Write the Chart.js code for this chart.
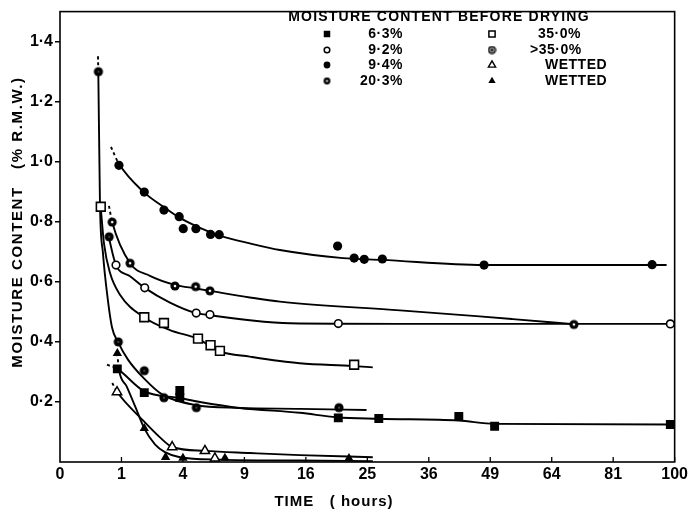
<!DOCTYPE html>
<html><head><meta charset="utf-8">
<script src="https://cdn.jsdelivr.net/npm/chart.js@4/dist/chart.umd.min.js"></script>
<style>html,body{margin:0;padding:0;background:#fff}#wrap{width:691px;height:513px}</style>
</head><body><div id="wrap"><canvas id="c" width="691" height="513"></canvas></div>
<script>
// ---------- tick labels ----------
const xTickHours  = [0, 1, 4, 9, 16, 25, 36, 49, 64, 81, 100];
const xTickLabels = ['0','1','4','9','16','25','36','49','64','81','100'];
const yTickValues = [0.2, 0.4, 0.6, 0.8, 1.0, 1.2, 1.4];
const yTickLabels = ['0·2','0·4','0·6','0·8','1·0','1·2','1·4'];

// ---------- legend labels ----------
const seriesLabels = ['6·3%','9·2%','9·4%','20·3%','35·0%','>35·0%','WETTED','WETTED'];

// ---------- measured points (time in hours, moisture % R.M.W.) ----------
const m63Hours   = [0.87, 1.88, 3.8, 3.8, 20.5, 26.9, 42.1, 50.0, 98.6];
const m63Values  = [0.31, 0.231, 0.238, 0.215, 0.147, 0.145, 0.152, 0.119, 0.125];

const m92Hours   = [0.83, 1.90, 4.91, 5.95, 20.5, 98.6];
const m92Values  = [0.656, 0.58, 0.496, 0.491, 0.461, 0.46];

const m94Hours   = [0.92, 1.88, 2.86, 3.76, 4.02, 4.89, 6.0, 6.71, 20.4, 22.9, 24.5, 27.5, 47.6, 92.8];
const m94Values  = [0.988, 0.899, 0.839, 0.817, 0.777, 0.777, 0.758, 0.757, 0.719, 0.679, 0.675, 0.676, 0.656, 0.657];

const m203Hours  = [0.72, 1.30, 3.50, 4.87, 5.95, 69.9];
const m203Values = [0.799, 0.662, 0.586, 0.584, 0.57, 0.458];

const m350Hours  = [0.44, 1.88, 2.86, 5.04, 6.0, 6.77, 22.9];
const m350Values = [0.85, 0.482, 0.463, 0.411, 0.389, 0.37, 0.324];

const mGt35Hours  = [0.39, 0.64, 0.90, 1.88, 2.86, 4.92, 20.6];
const mGt35Values = [1.30, 0.75, 0.40, 0.304, 0.214, 0.181, 0.181];

const mWetOHours  = [0.86, 3.33, 5.56, 6.35];
const mWetOValues = [0.233, 0.05, 0.037, 0.012];

const mWetFHours  = [0.87, 1.88, 2.95, 4.0, 7.2, 22.1];
const mWetFValues = [0.362, 0.112, 0.016, 0.013, 0.013, 0.012];

// ---------- drawn curves ----------
const c94Hours   = [0.688, 0.92, 1.87, 2.86, 3.81, 5.18, 6.77, 9.54, 12.8, 21.2, 27.4, 47.5, 97.4];
const c94Values  = [1.049, 0.993, 0.898, 0.849, 0.813, 0.78, 0.754, 0.728, 0.706, 0.679, 0.673, 0.656, 0.656];

const c92Hours   = [0.61, 0.83, 1.30, 1.90, 3.2, 4.89, 5.95, 9.54, 14.0, 30.6, 98.6];
const c92Values  = [0.76, 0.656, 0.619, 0.58, 0.531, 0.496, 0.489, 0.472, 0.462, 0.46, 0.46];

const c203Hours  = [0.635, 0.72, 1.30, 2.14, 3.5, 4.87, 5.95, 9.54, 12.8, 30.6, 46.6, 54.3, 69.9];
const c203Values = [0.853, 0.799, 0.662, 0.62, 0.59, 0.578, 0.57, 0.548, 0.534, 0.505, 0.485, 0.476, 0.459];

const c350Hours  = [0.438, 0.512, 0.661, 0.952, 1.866, 3.2, 5.04, 6.77, 9.54, 15.2, 22.7, 25.9];
const c350Values = [0.85, 0.728, 0.63, 0.557, 0.482, 0.439, 0.41, 0.368, 0.351, 0.329, 0.32, 0.315];

const cGt35Hours  = [0.382, 0.388, 0.423, 0.489, 0.584, 0.715, 0.889, 1.223, 1.91, 2.735, 4.818, 8.566, 15.23, 24.87];
const cGt35Values = [1.351, 1.302, 0.859, 0.695, 0.564, 0.449, 0.40, 0.341, 0.275, 0.226, 0.19, 0.18, 0.177, 0.173];

const c63Hours   = [0.584, 0.868, 1.866, 3.807, 5.182, 8.566, 15.23, 20.24, 26.9, 42.09, 50.03, 98.6];
const c63Values  = [0.324, 0.31, 0.236, 0.213, 0.2, 0.18, 0.164, 0.149, 0.144, 0.138, 0.127, 0.125];

const cWetOHours  = [0.723, 0.868, 1.765, 2.644, 3.334, 5.559, 9.544, 15.23, 25.9];
const cWetOValues = [0.263, 0.233, 0.143, 0.082, 0.05, 0.037, 0.03, 0.023, 0.016];

const cWetFHours  = [0.868, 0.92, 1.176, 1.487, 1.879, 2.386, 2.915, 3.807, 6.77, 15.23, 25.9];
const cWetFValues = [0.362, 0.308, 0.252, 0.187, 0.112, 0.059, 0.033, 0.016, 0.008, 0.005, 0.003];

// ---------- helpers ----------
const pts = (hours, values) => hours.map((h, i) => ({ x: Math.sqrt(h), y: values[i] }));

function dotCanvas(r, ir, outer, inner, ring) {
  const s = Math.ceil(2 * r + 2);
  const c = document.createElement('canvas');
  c.width = s; c.height = s;
  const g = c.getContext('2d');
  g.fillStyle = outer; g.beginPath(); g.arc(s / 2, s / 2, r, 0, Math.PI * 2); g.fill();
  if (ring) { g.strokeStyle = '#000'; g.lineWidth = 1.2; g.stroke(); }
  g.fillStyle = inner; g.beginPath(); g.arc(s / 2, s / 2, ir, 0, Math.PI * 2); g.fill();
  return c;
}

const styles = {
  sqF:  { pointStyle: 'rect', pointRadius: 6.3, backgroundColor: '#000', borderColor: '#000', borderWidth: 0 },
  ciO:  { pointStyle: 'circle', pointRadius: 3.8, backgroundColor: '#fff', borderColor: '#000', borderWidth: 1.6 },
  ciF:  { pointStyle: 'circle', pointRadius: 4.6, backgroundColor: '#000', borderColor: '#000', borderWidth: 0 },
  ciD:  { pointStyle: dotCanvas(4.6, 1.3, '#000', '#fff', false), pointRadius: 4.6 },
  sqO:  { pointStyle: 'rect', pointRadius: 6.2, backgroundColor: '#fff', borderColor: '#000', borderWidth: 1.6 },
  ciG:  { pointStyle: dotCanvas(4.6, 1.0, '#000', '#555', false), pointRadius: 4.6 },
  trO:  { pointStyle: 'triangle', pointRadius: 5.4, backgroundColor: '#fff', borderColor: '#000', borderWidth: 1.5 },
  trF:  { pointStyle: 'triangle', pointRadius: 5.4, backgroundColor: '#000', borderColor: '#000', borderWidth: 0 }
};

const markerSets = [
  [m63Hours, m63Values, 'sqF'],
  [m92Hours, m92Values, 'ciO'],
  [m94Hours, m94Values, 'ciF'],
  [m203Hours, m203Values, 'ciD'],
  [m350Hours, m350Values, 'sqO'],
  [mGt35Hours, mGt35Values, 'ciG'],
  [mWetOHours, mWetOValues, 'trO'],
  [mWetFHours, mWetFValues, 'trF']
];
const curveSets = [
  [c63Hours, c63Values, true],
  [c92Hours, c92Values, false],
  [c94Hours, c94Values, true],
  [c203Hours, c203Values, true],
  [c350Hours, c350Values, false],
  [cGt35Hours, cGt35Values, true],
  [cWetOHours, cWetOValues, true],
  [cWetFHours, cWetFValues, true]
];

const datasets = [];
markerSets.forEach(([h, v, st], i) => {
  const s = styles[st];
  datasets.push(Object.assign({
    label: seriesLabels[i], data: pts(h, v), showLine: false, order: 0,
    pointHoverRadius: s.pointRadius
  }, s));
});
curveSets.forEach(([h, v, dashStart], i) => {
  datasets.push({
    label: seriesLabels[i] + ' curve', data: pts(h, v), showLine: true, order: 1,
    pointRadius: 0, borderColor: '#000', borderWidth: 1.9, fill: false,
    cubicInterpolationMode: 'monotone',
    segment: dashStart ? { borderDash: c => c.p0DataIndex === 0 ? [3, 3] : undefined } : undefined
  });
});

const FONT = '"Liberation Sans", Arial, sans-serif';

const decor = {
  id: 'decor',
  beforeDatasetsDraw(chart) {
    const { ctx, chartArea: a, scales: { x } } = chart;
    ctx.save();
    ctx.strokeStyle = '#000';
    ctx.lineWidth = 1.6;
    ctx.strokeRect(a.left, a.top, a.right - a.left, a.bottom - a.top);
    ctx.lineWidth = 1.3;
    xTickHours.forEach(h => {
      if (h === 0) return;
      const px = x.getPixelForValue(Math.sqrt(h));
      ctx.beginPath(); ctx.moveTo(px, a.bottom); ctx.lineTo(px, a.bottom - 5); ctx.stroke();
    });
    ctx.restore();
  },
  afterDraw(chart) {
    const { ctx } = chart;
    ctx.save();
    ctx.fillStyle = '#000';
    ctx.textAlign = 'center'; ctx.textBaseline = 'middle';
    // axis titles
    ctx.font = 'bold 15px ' + FONT;
    ctx.letterSpacing = '1px';
    ctx.fillText('TIME   ( hours)', 334, 502);
    ctx.save();
    ctx.translate(18, 222); ctx.rotate(-Math.PI / 2);
    ctx.letterSpacing = '1.6px';
    ctx.fillText('MOISTURE CONTENT   (% R.M.W.)', 0, 0);
    ctx.restore();
    // legend
    ctx.font = 'bold 14px ' + FONT;
    ctx.letterSpacing = '1.2px';
    ctx.fillText('MOISTURE CONTENT BEFORE DRYING', 439, 17);
    ctx.letterSpacing = '0.5px';
    const rows = [34, 50, 65, 81];
    const legendStyles = [
      { pointStyle: 'rect', radius: 4.6, fill: '#000', stroke: '#000', bw: 0 },
      { pointStyle: 'circle', radius: 2.8, fill: '#fff', stroke: '#000', bw: 1.5 },
      { pointStyle: 'circle', radius: 3.4, fill: '#000', stroke: '#000', bw: 0 },
      { pointStyle: dotCanvas(3.4, 1.1, '#000', '#fff', false), radius: 3.4 },
      { pointStyle: 'rect', radius: 4.4, fill: '#fff', stroke: '#000', bw: 1.5 },
      { pointStyle: dotCanvas(3.4, 1.2, '#999', '#000', true), radius: 3.4 },
      { pointStyle: 'triangle', radius: 4.2, fill: '#fff', stroke: '#000', bw: 1.4 },
      { pointStyle: 'triangle', radius: 4.2, fill: '#000', stroke: '#000', bw: 0 }
    ];
    const col2LabelX = [538, 530, 545, 545];
    seriesLabels.forEach((lab, i) => {
      const col = i < 4 ? 0 : 1;
      const r = i % 4;
      const y = rows[r];
      const mx = col === 0 ? 327 : 492;
      const s = legendStyles[i];
      ctx.fillStyle = s.fill || '#000'; ctx.strokeStyle = s.stroke || '#000'; ctx.lineWidth = s.bw || 0;
      Chart.helpers.drawPoint(ctx, { pointStyle: s.pointStyle, radius: s.radius, rotation: 0, borderWidth: s.bw || 0 }, mx, y);
      ctx.fillStyle = '#000';
      if (col === 0) { ctx.textAlign = 'right'; ctx.fillText(lab, 403, y); }
      else { ctx.textAlign = 'left'; ctx.fillText(lab, col2LabelX[r], y); }
    });
    ctx.restore();
  }
};

new Chart(document.getElementById('c'), {
  type: 'scatter',
  data: { datasets },
  options: {
    responsive: false, animation: false, devicePixelRatio: 1,
    layout: { padding: { top: 6, right: 16, bottom: 0, left: 0 } },
    plugins: { legend: { display: false }, tooltip: { enabled: false } },
    scales: {
      x: {
        type: 'linear', min: 0, max: 10,
        afterFit: s => { s.height = 51; },
        afterBuildTicks: s => { s.ticks = xTickHours.map(h => ({ value: Math.sqrt(h) })); },
        ticks: { callback: (v, i) => xTickLabels[i], color: '#000', font: { family: FONT, size: 16, weight: 'bold' },
                 padding: 3, maxRotation: 0, autoSkip: false },
        grid: { display: false, drawTicks: false },
        border: { display: false }
      },
      y: {
        type: 'linear', min: 0, max: 1.5,
        afterFit: s => { s.width = 60; },
        afterBuildTicks: s => { s.ticks = yTickValues.map(v => ({ value: v })); },
        ticks: { callback: (v, i) => yTickLabels[i], color: '#000', font: { family: FONT, size: 16, weight: 'bold' },
                 padding: 2, autoSkip: false },
        grid: { display: true, drawOnChartArea: false, drawTicks: true, tickLength: 5, color: '#000', lineWidth: 1.5 },
        border: { display: false }
      }
    }
  },
  plugins: [decor]
});
</script>
</body></html>
